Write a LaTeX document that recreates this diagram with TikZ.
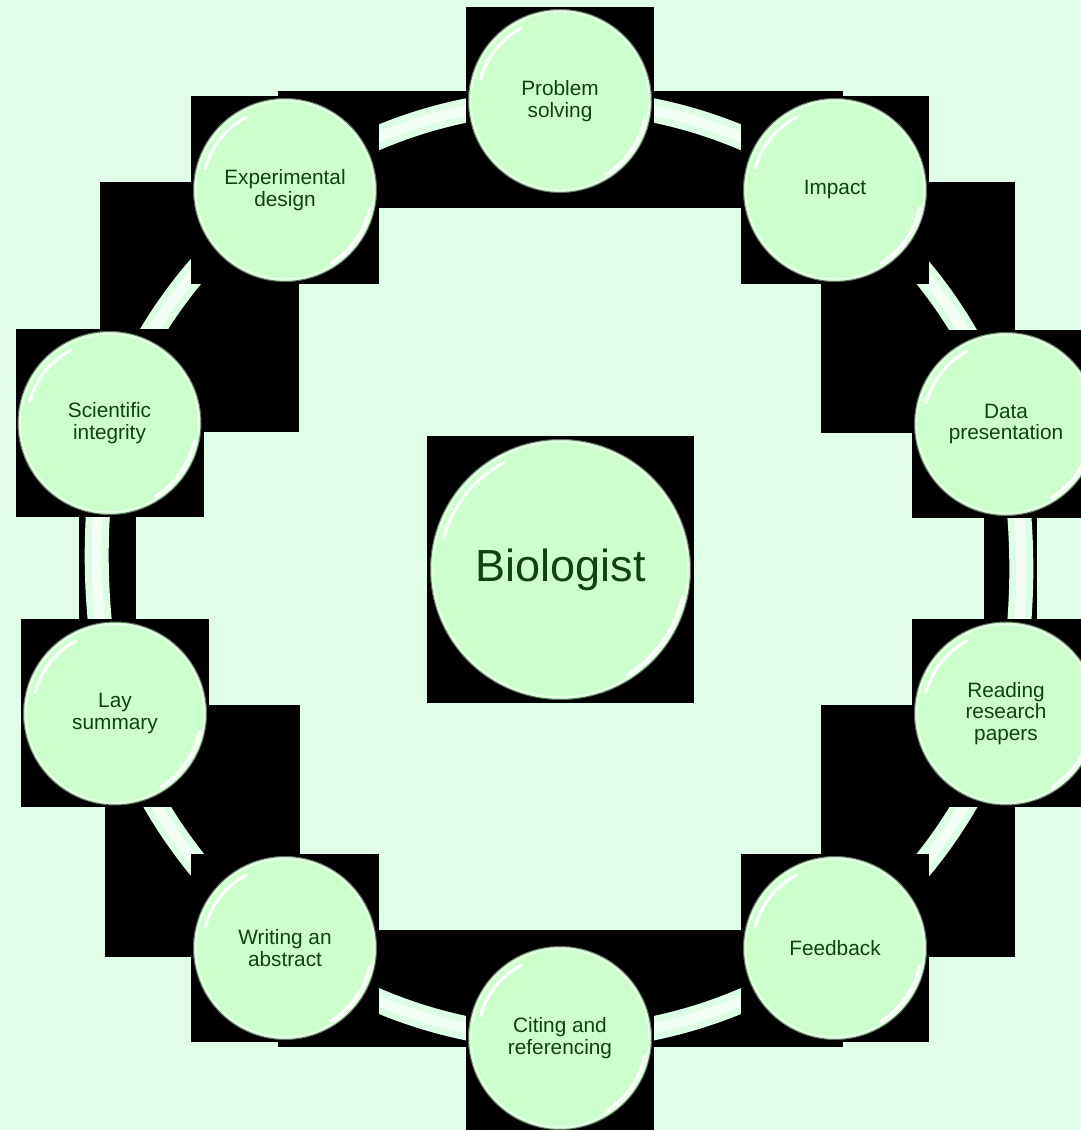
\documentclass[tikz,border=0pt]{standalone}
\usepackage{fontspec}
\setmainfont{Liberation Sans}
\usetikzlibrary{calc}

\definecolor{bgmint}{RGB}{224,253,233}
\definecolor{ballfill}{RGB}{204,255,204}
\definecolor{ringmint}{RGB}{222,253,230}
\definecolor{ringlight}{RGB}{243,255,246}
\definecolor{labelgreen}{RGB}{14,66,14}
\definecolor{rimgray}{RGB}{95,105,95}

\pgfdeclarelayer{backdrop}
\pgfdeclarelayer{ringlayer}
\pgfdeclarelayer{boxes}
\pgfsetlayers{backdrop,ringlayer,boxes,main}

\begin{document}
\begin{tikzpicture}[x = 1pt, y = 1pt]
\tikzstyle{Ball}=[shape = circle,
                  fill = ballfill,
                  draw = rimgray,
                  line width = 1pt,
                  inner sep = 0pt,
                  minimum size = 183pt,
                  text = labelgreen,
                  align = center,
                  font = \fontsize{20.8}{21.7}\selectfont]
\tikzstyle{BigBall}=[Ball, minimum size = 260pt, font = \fontsize{45}{50}\selectfont]
\tikzstyle{Ring}=[draw = ringmint, line width = 7pt, double = ringlight, double distance = 10pt]
\tikzstyle{Gloss}=[draw = white, line width = 3pt, line cap = round]
\useasboundingbox (0,0) rectangle (1081,1130);
\clip (0,0) rectangle (1081,1130);
\node[BigBall] (v0) at (560.5,560.5) {Biologist};
\node[Ball] (v1) at (560,1029) {Problem\\solving};
\node[Ball] (v2) at (835,940) {Impact};
\node[Ball] (v3) at (1006,706) {Data\\presentation};
\node[Ball] (v4) at (1006,416.5) {Reading\\research\\papers};
\node[Ball] (v5) at (835,182) {Feedback};
\node[Ball] (v6) at (560,92) {Citing and\\referencing};
\node[Ball] (v7) at (285,182) {Writing an\\abstract};
\node[Ball] (v8) at (115,416.5) {Lay\\summary};
\node[Ball] (v9) at (109.5,707) {Scientific\\integrity};
\node[Ball] (v10) at (285,940) {Experimental\\design};
% glossy highlights
\foreach \v/\r in {v0/130, v1/91.5, v2/91.5, v3/91.5, v4/91.5, v5/91.5, v6/91.5, v7/91.5, v8/91.5, v9/91.5, v10/91.5} {
  \draw[white, line width = 1.2pt, opacity = .7] (\v.center) circle[radius = \r-2.5];
  \draw[Gloss] ($(\v.center)+(165:\r-9)$) arc[start angle = 165, end angle = 118, radius = \r-9];
  \draw[Gloss] ($(\v.center)+(-12:\r-5)$) arc[start angle = -12, end angle = -58, radius = \r-5];
}
\begin{pgfonlayer}{boxes}
\foreach \v/\h in {v0/133.5, v1/94, v2/94, v3/94, v4/94, v5/94, v6/94, v7/94, v8/94, v9/94, v10/94}
  \fill[black] ($(\v.center)+(-\h,-\h)$) rectangle ($(\v.center)+(\h,\h)$);
\end{pgfonlayer}
\begin{pgfonlayer}{ringlayer}
\foreach \a/\b/\t in {v1/v2/18, v2/v3/18, v3/v4/12, v4/v5/18, v5/v6/18, v6/v7/18, v7/v8/18, v8/v9/12, v9/v10/18, v10/v1/18}
  \draw[Ring] (\a.center) to[bend left = \t, looseness = 0.87] (\b.center);
\end{pgfonlayer}
\begin{pgfonlayer}{backdrop}
\fill[bgmint] (0,0) rectangle (1081,1130);
% boxes behind the ring segments
\fill[black] (560,922) rectangle (843,1039);
\fill[black] (821,697) rectangle (1015,948);
\fill[black] (984,415) rectangle (1037,705);
\fill[black] (821,173) rectangle (1015,425);
\fill[black] (560,83) rectangle (843,200);
\fill[black] (278,83) rectangle (562,200);
\fill[black] (105,173) rectangle (300,425);
\fill[black] (79,415) rectangle (136,705);
\fill[black] (100,698) rectangle (299,948);
\fill[black] (278,922) rectangle (562,1039);
\end{pgfonlayer}
\end{tikzpicture}
\end{document}
